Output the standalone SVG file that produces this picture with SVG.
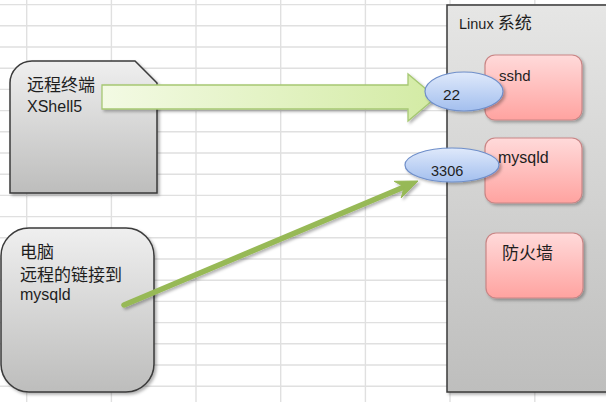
<svg xmlns="http://www.w3.org/2000/svg" width="606" height="402" viewBox="0 0 606 402">
<defs>
<style>
.grid{stroke:#e0e0e0;stroke-width:1.4;fill:none}
.t{font-family:"Liberation Sans","Noto Sans CJK SC",sans-serif;fill:#1e1e1e}
.cjk{font-family:"Noto Sans CJK SC","Liberation Sans",sans-serif;font-size:17px}
.gray{stroke:#3a3a3a;stroke-width:1.5}
.pink{fill:url(#gPink);stroke:#c98585;stroke-width:1.2}
.oval{fill:url(#gBlue);stroke:#6f8fca;stroke-width:1.2}
</style>
<linearGradient id="gGray" x1="0" y1="0" x2="0" y2="1"><stop offset="0" stop-color="#efefef"/><stop offset="1" stop-color="#bdbdbc"/></linearGradient>
<linearGradient id="gLinux" x1="0" y1="0" x2="0" y2="1"><stop offset="0" stop-color="#e6e6e5"/><stop offset="1" stop-color="#bebebd"/></linearGradient>
<linearGradient id="gPink" x1="0" y1="0" x2="0" y2="1"><stop offset="0" stop-color="#ffdada"/><stop offset="1" stop-color="#ffa3a0"/></linearGradient>
<linearGradient id="gBlue" x1="0" y1="0" x2="0" y2="1"><stop offset="0" stop-color="#dfe9fb"/><stop offset="1" stop-color="#a3bfee"/></linearGradient>
<linearGradient id="gArrow" x1="0" y1="0" x2="1" y2="0"><stop offset="0" stop-color="#f3fae4"/><stop offset="1" stop-color="#d3eba4"/></linearGradient>
<filter id="sh" x="-10%" y="-10%" width="130%" height="130%"><feDropShadow dx="2" dy="2" stdDeviation="1.8" flood-color="#000" flood-opacity="0.3"/></filter>
</defs>
<rect width="606" height="402" fill="#ffffff"/>
<path class="grid" d="M26.7,0V402M111.4,0V402M196,0V402M280.7,0V402M365.4,0V402M450,0V402M534.8,0V402M0,4.6H606M0,25.8H606M0,47H606M0,68.2H606M0,89.4H606M0,110.6H606M0,131.8H606M0,153H606M0,174.2H606M0,195.4H606M0,216.6H606M0,237.8H606M0,259H606M0,280.2H606M0,301.4H606M0,322.6H606M0,343.8H606M0,365H606M0,386.2H606"/>
<g id="terminal">
<path class="gray" filter="url(#sh)" fill="url(#gGray)" d="M10,83 A22,22 0 0 1 32,61 L135,61 L157,83 L157,193 L10,193 Z"/>
<text class="t cjk" x="27" y="91">远程终端</text>
<text class="t" x="27" y="112" font-size="16">XShell5</text>
</g>
<g id="pc">
<rect class="gray" filter="url(#sh)" fill="url(#gGray)" x="1" y="228" width="153" height="164" rx="28"/>
<text class="t cjk" x="20" y="258">电脑</text>
<text class="t cjk" x="20" y="281">远程的链接到</text>
<text class="t" x="20" y="300" font-size="16">mysqld</text>
</g>
<g id="linux">
<rect class="gray" filter="url(#sh)" fill="url(#gLinux)" x="447" y="5" width="175" height="387"/>
<text class="t" x="459" y="29" font-size="14.5">Linux <tspan class="cjk" font-size="17">系统</tspan></text>
</g>
<g id="sshd">
<rect class="pink" filter="url(#sh)" x="485" y="55" width="97" height="65" rx="10"/>
<text class="t" x="499" y="81" font-size="15">sshd</text>
</g>
<g id="mysqld">
<rect class="pink" filter="url(#sh)" x="485" y="138" width="97" height="65" rx="10"/>
<text class="t" x="498" y="163" font-size="16">mysqld</text>
</g>
<g id="firewall">
<rect class="pink" filter="url(#sh)" x="486" y="233" width="97" height="65" rx="10"/>
<text class="t cjk" x="502" y="259">防火墙</text>
</g>
<g id="connectors">
<polygon filter="url(#sh)" fill="url(#gArrow)" stroke="#a6c873" stroke-width="1.3" points="102,85 408,85 408,74 436,97.5 408,121 408,109 102,109"/>
<g filter="url(#sh)" fill="#97b956" stroke="#97b956">
<line x1="124" y1="305" x2="404" y2="187" stroke-width="5.5" stroke-linecap="round"/>
<polygon stroke-width="1" stroke-linejoin="round" points="418,181 401.2,197.9 404.2,186.8 394.2,181.3"/>
</g>
</g>
<g id="port22">
<ellipse class="oval" filter="url(#sh)" cx="464" cy="91.5" rx="39" ry="19.5"/>
<text class="t" x="443" y="100" font-size="15.5">22</text>
</g>
<g id="port3306">
<ellipse class="oval" filter="url(#sh)" cx="452" cy="165" rx="47" ry="17"/>
<text class="t" x="431" y="176" font-size="14.5">3306</text>
</g>
</svg>
